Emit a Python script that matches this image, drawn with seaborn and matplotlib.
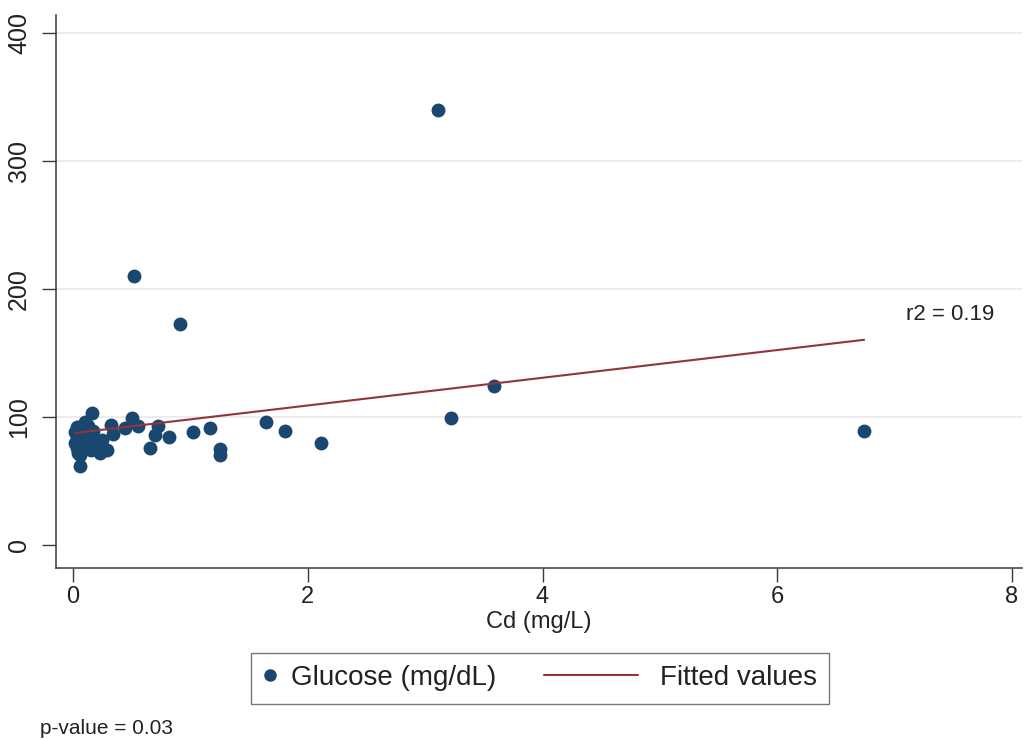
import numpy as np
import pandas as pd
import matplotlib
matplotlib.use("Agg")
import matplotlib.pyplot as plt
from matplotlib.lines import Line2D
from matplotlib.legend_handler import HandlerBase
import seaborn as sns

# Cadmium concentration (mg/L) and blood glucose (mg/dL) per subject
cd = [3.11, 0.52, 0.91, 3.59, 3.22, 6.74, 2.11, 1.81, 1.64, 1.25, 1.25, 1.17,
      1.02, 0.82, 0.72, 0.70, 0.66, 0.55, 0.50, 0.44, 0.34, 0.32, 0.29, 0.23,
      0.25, 0.20, 0.17, 0.16, 0.15, 0.12, 0.10, 0.09, 0.06, 0.06, 0.03, 0.03,
      0.03, 0.02, 0.02, 0.04, 0.08, 0.13, 0.05, 0.11]
glucose = [340, 210, 173, 124, 99, 89, 80, 89, 96, 75, 70, 91,
           88, 84, 93, 86, 76, 93, 99, 91, 87, 94, 74, 72,
           82, 80, 89, 103, 74, 84, 96, 79, 70, 62, 92, 84,
           76, 80, 88, 72, 90, 93, 86, 76]

y_ticks = [0, 100, 200, 300, 400]
x_ticks = [0, 2, 4, 6, 8]
r2_text = "r2 = 0.19"
p_text = "p-value = 0.03"

NAVY = "#1a476f"
MAROON = "#90353b"
AXIS = "#3a3a3a"

df = pd.DataFrame({"cd": cd, "glucose": glucose})

sns.set_theme(style="white")
plt.rcParams["font.family"] = ["Liberation Sans", "DejaVu Sans"]

fig = plt.figure(figsize=(10.24, 7.4), dpi=100)
ax = fig.add_axes([56 / 1024, 1 - 568 / 740, (1022 - 56) / 1024, (568 - 15) / 740])

# horizontal grid at the labelled values above zero
for v in y_ticks[1:]:
    ax.axhline(v, color="#ebebeb", lw=1.3, zorder=0)

sns.scatterplot(data=df, x="cd", y="glucose", color=NAVY, s=100, linewidth=0,
                ax=ax, legend=False, zorder=3)

# ordinary least-squares fit over the observed range of Cd
slope, intercept = np.polyfit(df["cd"], df["glucose"], 1)
xs = np.array([df["cd"].min(), df["cd"].max()])
sns.lineplot(x=xs, y=intercept + slope * xs, color=MAROON, lw=1.5, ax=ax, zorder=4)

ax.set_xlim(-0.145, 8.085)
ax.set_ylim(-18, 414)
ax.set_xticks(x_ticks)
ax.set_yticks(y_ticks)
ax.set_xticklabels([str(t) for t in x_ticks])
ax.set_yticklabels([str(t) for t in y_ticks], rotation=90, va="center")
ax.tick_params(axis="both", direction="out", length=10, width=1, color=AXIS,
               labelcolor="#222222", bottom=True, left=True)
ax.tick_params(axis="x", labelsize=17, pad=3)
ax.tick_params(axis="y", labelsize=18, pad=8)

for side in ("top", "right"):
    ax.spines[side].set_visible(False)
for side in ("left", "bottom"):
    ax.spines[side].set_color(AXIS)
    ax.spines[side].set_linewidth(1.1)

ax.set_xlabel("Cd (mg/L)", fontsize=17, color="#222222", labelpad=2)
ax.set_ylabel("")

ax.text(7.1, 180, r2_text, fontsize=16, color="#222222", va="center", ha="left")


class DotHandler(HandlerBase):
    def create_artists(self, legend, orig_handle, xdescent, ydescent,
                       width, height, fontsize, trans):
        dot = Line2D([width / 2 - xdescent], [height / 2 - ydescent], marker="o",
                     markersize=8, color=NAVY, linestyle="none", transform=trans)
        return [dot]


class LongLineHandler(HandlerBase):
    def create_artists(self, legend, orig_handle, xdescent, ydescent,
                       width, height, fontsize, trans):
        x1 = width - xdescent - 5.5
        ln = Line2D([x1 - 68, x1], [height / 2 - ydescent] * 2,
                    color=MAROON, lw=1.5, transform=trans)
        return [ln]


dot_handle = Line2D([], [], marker="o", color=NAVY, linestyle="none")
line_handle = Line2D([], [], color=MAROON)
leg = fig.legend([dot_handle, line_handle], ["Glucose (mg/dL)", "Fitted values"],
                 handler_map={dot_handle: DotHandler(), line_handle: LongLineHandler()},
                 loc="center", bbox_to_anchor=(540 / 1024, 1 - 678 / 740), ncol=2,
                 fontsize=20, frameon=True, fancybox=False, edgecolor="#555555",
                 handlelength=0.5, handletextpad=0.5, columnspacing=4.9,
                 borderpad=0.45)
leg.get_frame().set_linewidth(1.0)
for t in leg.get_texts():
    t.set_color("#222222")

fig.text(40 / 1024, 1 - 728 / 740, p_text, fontsize=15, color="#222222",
         ha="left", va="center")

fig.savefig("out.png", dpi=100, facecolor="white")
